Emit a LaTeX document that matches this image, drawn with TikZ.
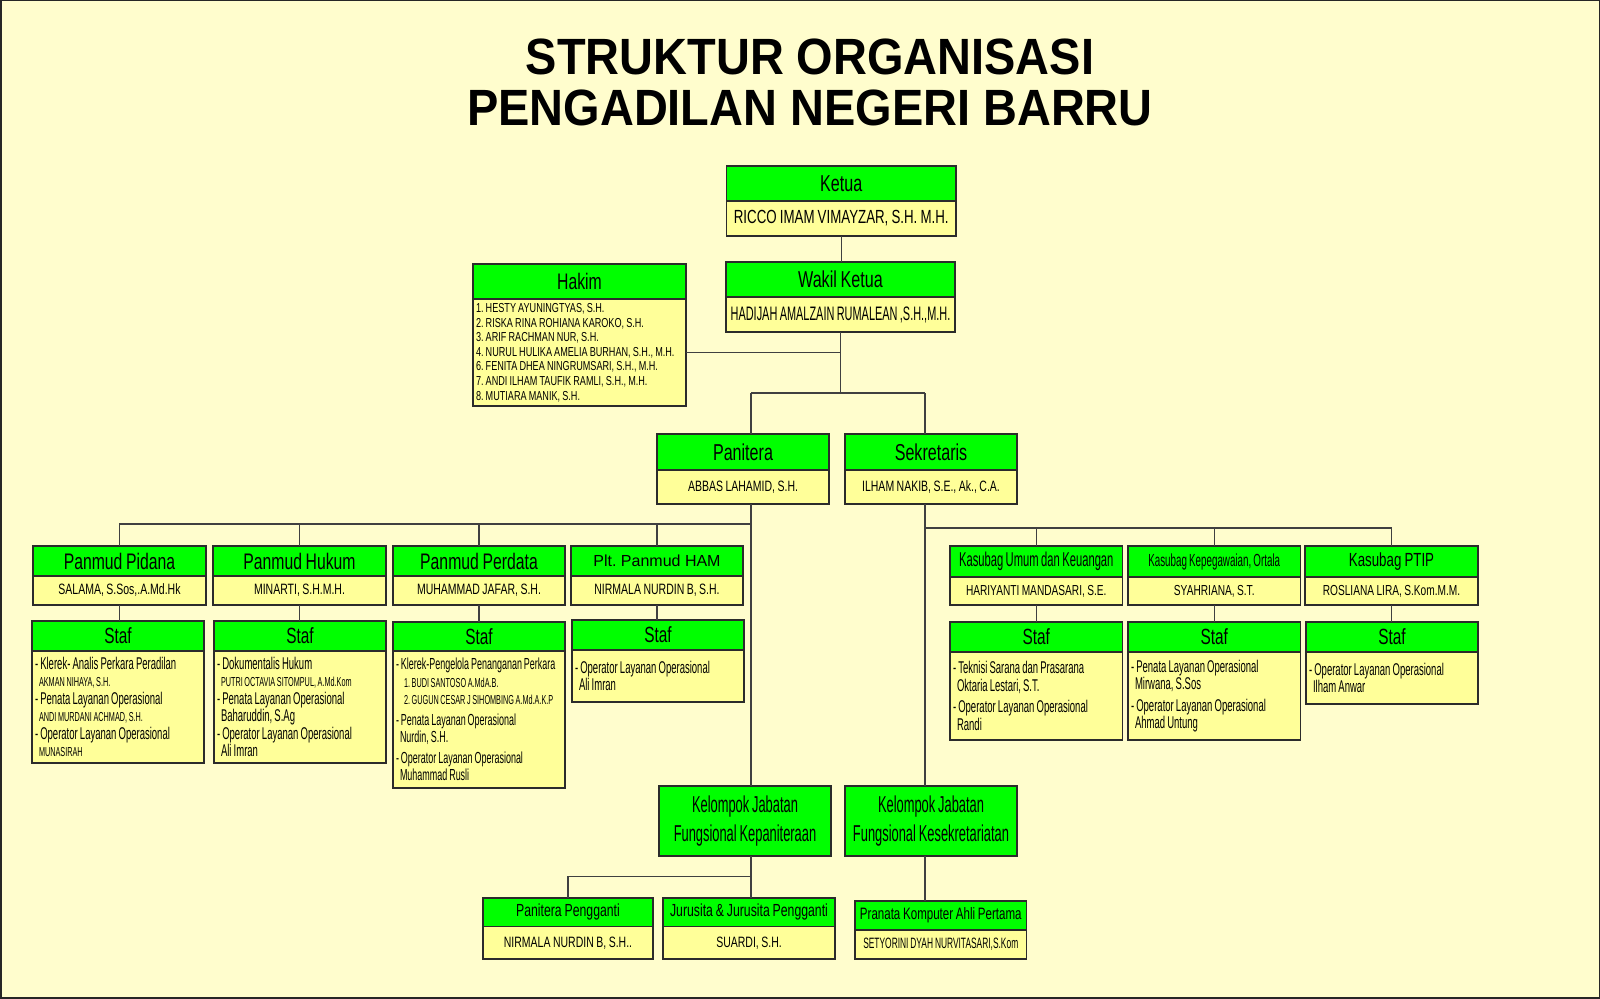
\documentclass[tikz,border=0pt]{standalone}
\usepackage{fontspec}
\setmainfont{Liberation Sans}
\newfontfamily\narrow{Liberation Sans}[FakeStretch=0.7, WordSpace=0.85]
\newfontfamily\xnarrow{Liberation Sans}[FakeStretch=0.56, WordSpace=0.8]
\newfontfamily\titlefont{Liberation Sans}[FakeStretch=0.92]
\usetikzlibrary{positioning}

\definecolor{bgyellow}{HTML}{FFFDCD}
\definecolor{headgreen}{HTML}{00FF00}
\definecolor{bodyyellow}{HTML}{FFFF99}
\definecolor{boxline}{HTML}{2B2B2B}
\definecolor{linegray}{HTML}{404040}

\newcommand{\subname}[2][4pt]{\hspace*{#1}{\fontsize{13}{17.5}\selectfont #2}}

\tikzset{
  ttl/.style={anchor=base, font=\titlefont\bfseries\fontsize{51}{52}\selectfont},
  hd/.style={draw=boxline, fill=headgreen, line width=1.3pt, outer sep=0pt,
    inner sep=0pt, anchor=north west, align=center,
    font=\narrow\fontsize{23}{26}\selectfont},
  bd/.style={draw=boxline, fill=bodyyellow, line width=1.3pt, outer sep=0pt,
    inner sep=0pt, align=center, font=\narrow\fontsize{15}{17}\selectfont},
  lst/.style={draw=boxline, fill=bodyyellow, line width=1.3pt, outer sep=0pt,
    inner xsep=3pt, inner ysep=0pt, align=left,
    font=\xnarrow\fontsize{17}{17.5}\selectfont,
    execute at begin node={\spaceskip=0pt\xspaceskip=0pt}},
  sz/.style 2 args={minimum width=#1pt, minimum height=#2pt},
  link/.style={draw=linegray, line width=1.3pt},
}

\begin{document}
\frenchspacing
\begin{tikzpicture}[x=1pt,y=-1pt]
\useasboundingbox (0,0) rectangle (1600,998);
\fill[bgyellow] (0,0) rectangle (1600,998);
\draw[line width=3pt, black!85] (0,0) rectangle (1600,998);

% judul
\node[ttl] (t1) at (810,74.5) {STRUKTUR ORGANISASI};
\node[ttl] (t2) at (810,125.5) {PENGADILAN NEGERI BARRU};

% pimpinan
\node[hd, sz={229.5}{35}] (ketua) at (726.5,166) {Ketua};
\node[bd, sz={229.5}{35}, below=0pt of ketua, font=\narrow\fontsize{19}{21}\selectfont] (ketua-n) {RICCO IMAM VIMAYZAR, S.H. M.H.};
\node[hd, sz={229}{35}] (wakil) at (726,262) {Wakil Ketua};
\node[bd, sz={229}{35}, below=0pt of wakil, font=\xnarrow\fontsize{19.5}{21}\selectfont] (wakil-n) {HADIJAH AMALZAIN RUMALEAN ,S.H.,M.H.};
\node[hd, sz={213}{35}, font=\narrow\fontsize{22.5}{26}\selectfont] (hakim) at (473,264) {Hakim};
\node[lst, text width=207pt, minimum height=107pt, below=0pt of hakim, font=\narrow\fontsize{13}{14.6}\selectfont] (hakim-n) {1. HESTY AYUNINGTYAS, S.H.\\
2. RISKA RINA ROHIANA KAROKO, S.H.\\
3. ARIF RACHMAN NUR, S.H.\\
4. NURUL HULIKA AMELIA BURHAN, S.H., M.H.\\
6. FENITA DHEA NINGRUMSARI, S.H., M.H.\\
7. ANDI ILHAM TAUFIK RAMLI, S.H., M.H.\\
8. MUTIARA MANIK, S.H.};

\node[hd, sz={172}{36}] (panitera) at (657,434) {Panitera};
\node[bd, sz={172}{34}, below=0pt of panitera] (panitera-n) {ABBAS LAHAMID, S.H.};
\node[hd, sz={172}{36}] (sekretaris) at (845,434) {Sekretaris};
\node[bd, sz={172}{34}, below=0pt of sekretaris] (sekretaris-n) {ILHAM NAKIB, S.E., Ak., C.A.};

% kepaniteraan
\node[hd, sz={173}{30}, font=\narrow\fontsize{22.5}{26}\selectfont] (pidana) at (33,546) {Panmud Pidana};
\node[bd, sz={173}{29}, below=0pt of pidana] (pidana-n) {SALAMA, S.Sos,.A.Md.Hk};
\node[hd, sz={173}{30}, font=\narrow\fontsize{22.5}{26}\selectfont] (hukum) at (213,546) {Panmud Hukum};
\node[bd, sz={173}{29}, below=0pt of hukum] (hukum-n) {MINARTI, S.H.M.H.};
\node[hd, sz={172}{30}, font=\narrow\fontsize{22.5}{26}\selectfont] (perdata) at (393,546) {Panmud Perdata};
\node[bd, sz={172}{29}, below=0pt of perdata] (perdata-n) {MUHAMMAD JAFAR, S.H.};
\node[hd, sz={172}{30}, font=\fontsize{16}{19}\selectfont] (ham) at (571,546) {Plt. Panmud HAM};
\node[bd, sz={172}{29}, below=0pt of ham] (ham-n) {NIRMALA NURDIN B, S.H.};

\node[hd, sz={172}{30}, font=\narrow\fontsize{22}{26}\selectfont] (s-pidana) at (32,621) {Staf};
\node[lst, text width=166pt, minimum height=112pt, below=0pt of s-pidana] (s-pidana-n) {- Klerek- Analis Perkara Peradilan\\
\subname{AKMAN NIHAYA, S.H.}\\
- Penata Layanan Operasional\\
\subname{ANDI MURDANI ACHMAD, S.H.}\\
- Operator Layanan Operasional\\
\subname{MUNASIRAH}};
\node[hd, sz={172}{30}, font=\narrow\fontsize{22}{26}\selectfont] (s-hukum) at (214,621) {Staf};
\node[lst, text width=166pt, minimum height=112pt, below=0pt of s-hukum] (s-hukum-n) {- Dokumentalis Hukum\\
\subname{PUTRI OCTAVIA SITOMPUL, A.Md.Kom}\\
- Penata Layanan Operasional\\
\hspace*{4pt}Baharuddin, S.Ag\\
- Operator Layanan Operasional\\
\hspace*{4pt}Ali Imran};
\node[hd, sz={172}{29}, font=\narrow\fontsize{22}{26}\selectfont] (s-perdata) at (393,622) {Staf};
\node[lst, text width=166pt, minimum height=137pt, below=0pt of s-perdata, font=\xnarrow\fontsize{16}{17.5}\selectfont] (s-perdata-n) {- Klerek-Pengelola Penanganan Perkara\\
\subname[8pt]{1. BUDI SANTOSO A.MdA.B.}\\
\subname[8pt]{2. GUGUN CESAR J SIHOMBING A.Md.A.K.P}\\[3pt]
- Penata Layanan Operasional\\
\hspace*{4pt}Nurdin, S.H.\\[3pt]
- Operator Layanan Operasional\\
\hspace*{4pt}Muhammad Rusli};
\node[hd, sz={172}{30}, font=\narrow\fontsize{22}{26}\selectfont] (s-ham) at (572,620) {Staf};
\node[lst, text width=166pt, minimum height=52pt, below=0pt of s-ham] (s-ham-n) {- Operator Layanan Operasional\\
\hspace*{4pt}Ali Imran};

% kesekretariatan
\node[hd, sz={172.5}{31}, font=\xnarrow\fontsize{20}{24}\selectfont] (umum) at (950,546) {Kasubag Umum dan Keuangan};
\node[bd, sz={172.5}{28}, below=0pt of umum, font=\narrow\fontsize{14.5}{17}\selectfont] (umum-n) {HARIYANTI MANDASARI, S.E.};
\node[hd, sz={172.5}{31}, font=\xnarrow\fontsize{17.5}{21}\selectfont] (kepeg) at (1128,546) {Kasubag Kepegawaian, Ortala};
\node[bd, sz={172.5}{28}, below=0pt of kepeg, font=\narrow\fontsize{14.5}{17}\selectfont] (kepeg-n) {SYAHRIANA, S.T.};
\node[hd, sz={173}{31}, font=\narrow\fontsize{19}{22}\selectfont] (ptip) at (1305,546) {Kasubag PTIP};
\node[bd, sz={173}{28}, below=0pt of ptip, font=\narrow\fontsize{14.5}{17}\selectfont] (ptip-n) {ROSLIANA LIRA, S.Kom.M.M.};

\node[hd, sz={172.5}{30}, font=\narrow\fontsize{22}{26}\selectfont] (s-umum) at (950,622) {Staf};
\node[lst, text width=166.5pt, minimum height=88pt, below=0pt of s-umum] (s-umum-n) {- Teknisi Sarana dan Prasarana\\
\hspace*{4pt}Oktaria Lestari, S.T.\\[4pt]
- Operator Layanan Operasional\\
\hspace*{4pt}Randi};
\node[hd, sz={172.5}{30}, font=\narrow\fontsize{22}{26}\selectfont] (s-kepeg) at (1128,622) {Staf};
\node[lst, text width=166.5pt, minimum height=88pt, below=0pt of s-kepeg] (s-kepeg-n) {- Penata Layanan Operasional\\
\hspace*{4pt}Mirwana, S.Sos\\[4pt]
- Operator Layanan Operasional\\
\hspace*{4pt}Ahmad Untung};
\node[hd, sz={172}{30}, font=\narrow\fontsize{22}{26}\selectfont] (s-ptip) at (1306,622) {Staf};
\node[lst, text width=166pt, minimum height=52pt, below=0pt of s-ptip] (s-ptip-n) {- Operator Layanan Operasional\\
\hspace*{4pt}Ilham Anwar};

% kelompok jabatan fungsional
\node[hd, sz={172}{70}, font=\xnarrow\fontsize{23}{28.5}\selectfont] (kjp) at (659,786) {Kelompok Jabatan\\Fungsional Kepaniteraan};
\node[hd, sz={172}{70}, font=\xnarrow\fontsize{23}{28.5}\selectfont] (kjs) at (845,786) {Kelompok Jabatan\\Fungsional Kesekretariatan};

\node[hd, sz={170}{28.5}, font=\narrow\fontsize{17.5}{20}\selectfont] (pp) at (483,898) {Panitera Pengganti};
\node[bd, sz={170}{32.5}, below=0pt of pp] (pp-n) {NIRMALA NURDIN B, S.H..};
\node[hd, sz={172}{28.5}, font=\narrow\fontsize{17.5}{20}\selectfont] (jurusita) at (663,898) {Jurusita \& Jurusita Pengganti};
\node[bd, sz={172}{32.5}, below=0pt of jurusita] (jurusita-n) {SUARDI, S.H.};
\node[hd, sz={171.5}{29}, font=\narrow\fontsize{16.5}{20}\selectfont] (pranata) at (855,901) {Pranata Komputer Ahli Pertama};
\node[bd, sz={171.5}{29}, below=0pt of pranata, font=\xnarrow\fontsize{15}{17}\selectfont] (pranata-n) {SETYORINI DYAH NURVITASARI,S.Kom};

% garis
\coordinate (xP) at (751,0);
\coordinate (xS) at (925,0);
\coordinate (busL) at (751,524);
\coordinate (busR) at (925,528);
\coordinate (busB) at (751,876.5);
\draw[link] (ketua-n.south) -- (ketua-n.south |- wakil.north);
\draw[link] (wakil-n.south) -- ++(0,61) coordinate (hub);
\draw[link] (hakim-n.east) -- (hakim-n.east -| hub);
\draw[link] (hub -| xP) -- (hub -| xS);
\draw[link] (hub -| xP) -- (panitera.north -| xP);
\draw[link] (hub -| xS) -- (sekretaris.north -| xS);
\draw[link] (panitera-n.south -| xP) -- (kjp.north -| xP);
\draw[link] (sekretaris-n.south -| xS) -- (kjs.north -| xS);
\draw[link] (pidana.north) |- (busL);
\foreach \n in {hukum,perdata,ham}
  \draw[link] (\n.north) -- (\n.north |- busL);
\foreach \n in {pidana,hukum,perdata,ham,umum,kepeg,ptip}
  \draw[link] (\n-n.south) -- (\n-n.south |- s-\n.north);
\draw[link] (busR) -| (ptip.north);
\foreach \n in {umum,kepeg}
  \draw[link] (\n.north) -- (\n.north |- busR);
\draw[link] (kjp.south -| xP) -- (jurusita.north -| xP);
\draw[link] (pp.north) |- (busB);
\draw[link] (kjs.south -| xS) -- (pranata.north -| xS);
\end{tikzpicture}
\end{document}
